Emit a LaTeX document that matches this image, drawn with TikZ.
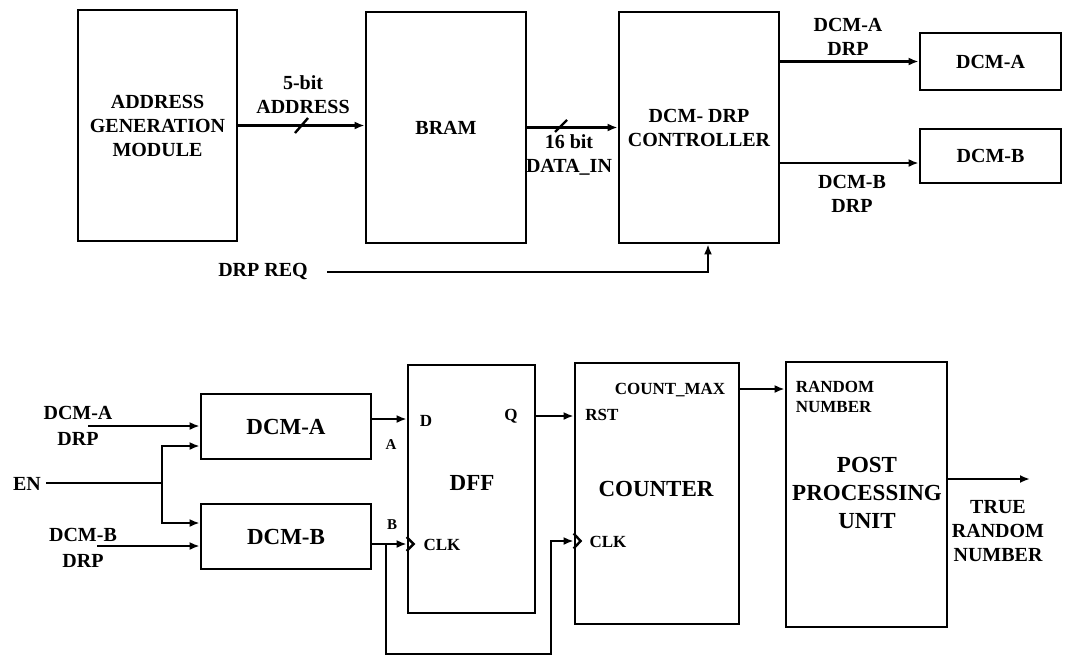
\documentclass[tikz,border=0pt]{standalone}
\usepackage{fontspec}
\setmainfont{Liberation Serif}
\usetikzlibrary{arrows.meta}
\newcommand{\blkfont}{\fontsize{23}{27.6}\selectfont\bfseries}
\newcommand{\sigfont}{\fontsize{20}{24}\selectfont\bfseries}
\newcommand{\pinfont}{\fontsize{17}{20}\selectfont\bfseries}
\newcommand{\abfont}{\fontsize{15}{18}\selectfont\bfseries}

\begin{document}
\begin{tikzpicture}[x=1pt, y=-1pt,
  block/.style={draw, line width=2.8pt, inner sep=2pt, align=center},
  wire/.style={line width=2.4pt},
  sig/.style={wire, -{Latex[length=10pt,width=8pt]}},
  lab/.style={inner sep=0pt, align=center}]
  \useasboundingbox (0,0) rectangle (1065,657);

  \node[block, font=\sigfont, minimum width=159pt, minimum height=231pt] (agm) at (157.5,125.5) {ADDRESS\\GENERATION\\MODULE};
  \node[block, font=\sigfont, minimum width=160pt, minimum height=231pt] (bram) at (446,127.5) {BRAM};
  \node[block, font=\sigfont, minimum width=160pt, minimum height=231pt] (ctrl) at (699,127.5) {DCM- DRP\\CONTROLLER};
  \node[block, font=\sigfont, minimum width=141pt, minimum height=57pt] (dcmAt) at (990.5,61.5) {DCM-A};
  \node[block, font=\sigfont, minimum width=141pt, minimum height=54pt] (dcmBt) at (990.5,156) {DCM-B};

  \node[lab, font=\sigfont] (addrlab) at (303,95) {5-bit\\ADDRESS};
  \node[lab, font=\sigfont] (datalab) at (569,155) {16 bit\\DATA\_IN};
  \node[lab, font=\sigfont] (drpAt) at (848,37) {DCM-A\\DRP};
  \node[lab, font=\sigfont] (drpBt) at (852,194) {DCM-B\\DRP};
  \node[lab, font=\sigfont] (req) at (263,271) {DRP REQ};
  \coordinate (reqin) at (327,272);

  \draw[sig] (agm.east) -- (agm.east -| bram.west);
  \draw[wire] (295,133) -- (308,118);
  \draw[sig] (bram.east) -- (bram.east -| ctrl.west);
  \draw[wire] (555,132) -- (567,120);
  \draw[sig] (dcmAt.west -| ctrl.east) -- (dcmAt.west);
  \draw[sig] (ctrl.east |- 0,163) -- (dcmBt.west |- 0,163);
  \draw[sig] (reqin) -| ([xshift=9pt]ctrl.south);

  \node[block, font=\blkfont, minimum width=170pt, minimum height=65pt] (dcmA) at (286,426.5) {DCM-A};
  \node[block, font=\blkfont, minimum width=170pt, minimum height=65pt] (dcmB) at (286,536.5) {DCM-B};
  \node[block, minimum width=127pt, minimum height=248pt] (dff) at (471.5,489) {};
  \node[block, minimum width=164pt, minimum height=261pt] (cnt) at (657,493.5) {};
  \node[block, minimum width=161pt, minimum height=265pt] (post) at (866.5,494.5) {};

  \node[lab, font=\blkfont] (dfflab) at (472,483) {DFF};
  \node[lab, font=\blkfont] (cntlab) at (656,489) {COUNTER};
  \node[lab, font=\blkfont] (postlab) at (867,493) {POST\\PROCESSING\\UNIT};

  \node[lab, font=\sigfont] (drpA) at (78,426) {DCM-A\\[2pt]DRP};
  \node[lab, font=\sigfont] (en) at (27,484) {EN};
  \node[lab, font=\sigfont] (drpB) at (83,548) {DCM-B\\[2pt]DRP};
  \node[lab, font=\abfont] (alab) at (391,445) {A};
  \node[lab, font=\abfont] (blab) at (392,525) {B};
  \node[lab, font=\pinfont] (dlab) at (426,421) {D};
  \node[lab, font=\pinfont] (qlab) at (511,416) {Q};
  \node[lab, font=\pinfont] (clk1) at (442,545) {CLK};
  \node[lab, font=\pinfont] (rst) at (602,415) {RST};
  \node[lab, font=\pinfont] (cmax) at (670,390) {COUNT\_MAX};
  \node[lab, font=\pinfont] (clk2) at (608,542) {CLK};
  \node[lab, font=\pinfont, align=left] (rnd) at (835,397) {RANDOM\\NUMBER};
  \node[lab, font=\sigfont] (trng) at (998,531) {TRUE\\RANDOM\\NUMBER};

  \coordinate (inA) at (88,426);
  \coordinate (enin) at (46,483);
  \coordinate (enj) at (162,483);
  \coordinate (inB) at (97,546);
  \coordinate (bj) at (386,544);
  \coordinate (dffclk) at (dff.west |- 0,544);
  \coordinate (cntclk) at (cnt.west |- 0,541);
  \coordinate (out) at (1030,479);

  \draw[sig] (inA) -- (inA -| dcmA.west);
  \draw[wire] (enin) -- (enj);
  \draw[sig] (enj) |- (dcmA.west |- 0,446);
  \draw[sig] (enj) |- (dcmB.west |- 0,523);
  \draw[sig] (inB) -- (inB -| dcmB.west);
  \draw[sig] (dcmA.east |- 0,419) -- (dff.west |- 0,419);
  \draw[sig] (dcmB.east |- dffclk) -- (dffclk);
  \draw[sig] (bj) -- (bj |- 0,654) -| (551,541) -- (cntclk);
  \draw[wire] (dffclk) ++(0,-7) -- ++(7,7) -- ++(-7,7);
  \draw[wire] (cntclk) ++(0,-7.5) -- ++(7,7.5) -- ++(-7,7.5);
  \draw[sig] (dff.east |- 0,416) -- (cnt.west |- 0,416);
  \draw[sig] (cnt.east |- 0,389) -- (post.west |- 0,389);
  \draw[sig] (post.east |- out) -- (out);
\end{tikzpicture}
\end{document}
